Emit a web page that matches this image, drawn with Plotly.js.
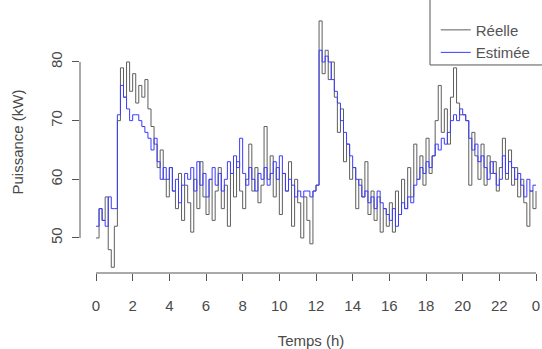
<!DOCTYPE html>
<html>
<head>
<meta charset="utf-8">
<script src="https://cdn.plot.ly/plotly-3.0.1.min.js"></script>
<style>html,body{margin:0;padding:0;background:#fff;}#chart{width:542px;height:349px;}</style>
</head>
<body>
<div id="chart"></div>
<script>
// Time step: 10 minutes, hours 0..24
const stepHours = 1 / 6;

// Measured power (kW) — "Réelle"
const reelle = [
  50, 55, 53, 57, 48, 45,
  52, 70, 79, 74, 80, 75,
  78, 73, 76, 74, 77, 72,
  69, 66, 62, 65, 60, 57,
  62, 58, 55, 61, 53, 59,
  56, 51, 60, 55, 63, 57,
  54, 60, 53, 58, 62, 55,
  59, 52, 61, 57, 63, 58,
  55, 60, 66, 58, 62, 56,
  59, 69, 60, 64, 57, 62,
  54, 61, 58, 63, 52, 60,
  56, 50, 57, 53, 49, 58,
  59, 87, 78, 82, 77, 80,
  74, 68, 72, 63, 66, 60,
  62, 55, 60, 57, 63, 54,
  58, 53, 57, 51, 55, 52,
  56, 51, 58, 54, 60, 55,
  62, 57, 66, 60, 64, 59,
  67, 61, 64, 70, 76, 68,
  72, 66, 74, 79, 73, 71,
  71, 70, 59, 68, 64, 60,
  66, 59, 64, 61, 63, 58,
  62, 67, 60, 65, 59, 62,
  57, 60, 56, 52, 58, 55,
  58
];

// Estimated power (kW) — "Estimée"
const estimee = [
  52, 55, 53, 52, 57, 55,
  55, 71, 76, 74, 72, 70,
  71, 71, 70, 69, 68, 67,
  65, 67, 63, 60, 62, 60,
  62, 58, 60, 56, 59, 61,
  60, 62, 58, 63, 59, 61,
  57, 60, 62, 59, 61, 58,
  60, 63, 61, 64, 62, 67,
  61, 59, 62, 60, 58, 61,
  60, 62, 59, 61, 63, 60,
  64, 61, 58, 60, 59, 57,
  58, 57, 58, 58, 57, 58,
  59, 82, 80, 81, 80, 77,
  75, 73, 70, 68, 66, 64,
  62, 60, 59, 57, 58, 56,
  57, 55, 58, 56, 55, 54,
  53, 55, 52, 54, 56, 55,
  57, 56, 59, 60, 62, 61,
  63, 62, 64, 66, 65, 67,
  66, 68, 70, 71, 70, 72,
  71, 70, 67, 65, 66, 63,
  64, 62, 60, 63, 61, 59,
  60, 64, 61, 63, 62, 60,
  61, 59, 57, 60, 58, 59,
  59
];

const xTickVals = [0, 2, 4, 6, 8, 10, 12, 14, 16, 18, 20, 22, 24];
const xTickText = ['0', '2', '4', '6', '8', '10', '12', '14', '16', '18', '20', '22', '0'];
const yTickVals = [50, 60, 70, 80];
const yTickText = ['50', '60', '70', '80'];
const seriesNames = ['Réelle', 'Estimée'];

const hours = reelle.map((_, i) => i * stepHours);

const font = 'Liberation Sans, Arial, Helvetica, sans-serif';
const axisCol = '#555555';
const textCol = '#4a4a4a';

const traces = [
  {x: hours, y: reelle, type: 'scatter', mode: 'lines', name: seriesNames[0],
   line: {color: '#5e5e5e', width: 1, shape: 'hv'}},
  {x: hours, y: estimee, type: 'scatter', mode: 'lines', name: seriesNames[1],
   line: {color: '#3b3bff', width: 1, shape: 'hv'}}
];

const layout = {
  width: 542, height: 349,
  margin: {l: 80, r: 0, t: 11, b: 76},
  paper_bgcolor: '#ffffff', plot_bgcolor: '#ffffff',
  font: {family: font, size: 15, color: textCol},
  showlegend: true,
  legend: {x: 0.77, y: 0.99, xanchor: 'left', yanchor: 'top',
           bgcolor: 'rgba(0,0,0,0)', borderwidth: 0,
           font: {family: font, size: 15, color: '#555555'}, tracegroupgap: 0},
  xaxis: {range: [-0.873, 24.327], showgrid: false, zeroline: false, showline: false,
          tickmode: 'array', tickvals: xTickVals, ticktext: xTickText,
          ticks: 'outside', ticklen: 7, tickcolor: axisCol, tickwidth: 1,
          ticklabelstandoff: 12,
          tickfont: {family: font, size: 15, color: textCol},
          title: {text: 'Temps (h)', font: {family: font, size: 15, color: textCol}, standoff: 22}},
  yaxis: {range: [44.03, 88.69], showgrid: false, zeroline: false, showline: false,
          tickmode: 'array', tickvals: yTickVals, ticktext: yTickText,
          ticks: 'outside', ticklen: 7, tickcolor: axisCol, tickwidth: 1, tickangle: -90,
          ticklabelstandoff: 4,
          tickfont: {family: font, size: 15, color: textCol},
          title: {text: 'Puissance (kW)', font: {family: font, size: 15, color: textCol}, standoff: 20}},
  shapes: [
    {type: 'line', xref: 'x', yref: 'paper', x0: 0, x1: 24, y0: 0, y1: 0,
     line: {color: axisCol, width: 1}},
    {type: 'line', xref: 'paper', yref: 'y', x0: 0, x1: 0, y0: 50, y1: 80,
     line: {color: axisCol, width: 1}},
    {type: 'rect', xref: 'paper', yref: 'paper', x0: 0.7576, x1: 1.05, y0: 0.794, y1: 1.06,
     line: {color: axisCol, width: 1}, fillcolor: 'rgba(0,0,0,0)'}
  ]
};

Plotly.newPlot('chart', traces, layout, {displayModeBar: false, staticPlot: true});
</script>
</body>
</html>
